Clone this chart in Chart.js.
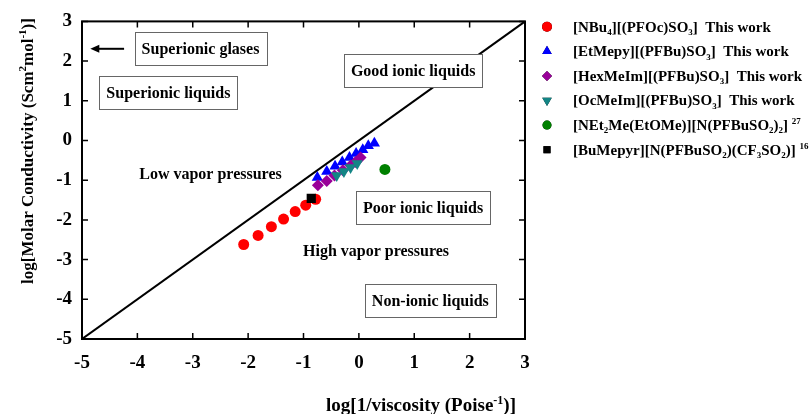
<!DOCTYPE html>
<html>
<head>
<meta charset="utf-8">
<script src="https://cdn.jsdelivr.net/npm/chart.js@4/dist/chart.umd.min.js"></script>
<style>
  body { margin: 0; background: #fff; }
  canvas { display: block; }
</style>
</head>
<body>
<canvas id="waldenChart" width="811" height="414"></canvas>
<script>
// walden plot - molar conductivity vs fluidity

const FONT = '"Liberation Serif", "Times New Roman", serif';

// axis range + ticks
const axisMin = -5;
const axisMax = 3;
const tickValues = [-5, -4, -3, -2, -1, 0, 1, 2, 3];

// ideal KCl line
const idealX = [-5, 3];
const idealY = [-5, 3];

// [NBu4][(PFOc)SO3]
const nbuX = [-2.08, -1.82, -1.58, -1.36, -1.15, -0.96, -0.78];
const nbuY = [-2.62, -2.39, -2.17, -1.98, -1.79, -1.63, -1.48];

// [EtMepy][(PFBu)SO3]
const etmX = [-0.75, -0.58, -0.43, -0.30, -0.17, -0.05, 0.07, 0.17, 0.28];
const etmY = [-0.93, -0.78, -0.65, -0.54, -0.43, -0.33, -0.23, -0.13, -0.07];

// [HexMeIm][(PFBu)SO3]
const hexX = [-0.74, -0.58, -0.44, -0.29, -0.15, -0.06, 0.03];
const hexY = [-1.13, -1.02, -0.88, -0.75, -0.63, -0.54, -0.43];

// [OcMeIm][(PFBu)SO3]
const ocX = [-0.40, -0.27, -0.15, -0.03];
const ocY = [-0.88, -0.78, -0.68, -0.58];

// [NEt2Me(EtOMe)][N(PFBuSO2)2] ref 27
const netX = [0.47];
const netY = [-0.73];

// [BuMepyr][N(PFBuSO2)(CF3SO2)] ref 16
const bmpX = [-0.86];
const bmpY = [-1.46];

// legend labels, _{} = subscript, ^{} = superscript
const legendLabels = [
  '[NBu_{4}][(PFOc)SO_{3}]  This work',
  '[EtMepy][(PFBu)SO_{3}]  This work',
  '[HexMeIm][(PFBu)SO_{3}]  This work',
  '[OcMeIm][(PFBu)SO_{3}]  This work',
  '[NEt_{2}Me(EtOMe)][N(PFBuSO_{2})_{2}] ^{27}',
  '[BuMepyr][N(PFBuSO_{2})(CF_{3}SO_{2})] ^{16}'
];

// region labels (text, x, y, boxed)
const regionText = ['Superionic glases', 'Superionic liquids', 'Good ionic liquids', 'Low vapor pressures', 'Poor ionic liquids', 'High vapor pressures', 'Non-ionic liquids'];
const regionX = [-2.86, -3.44, 0.98, -2.68, 1.16, 0.31, 1.29];
const regionY = [2.31, 1.21, 1.76, -0.84, -1.69, -2.77, -4.03];
const regionBoxed = [true, true, true, false, true, false, true];

const xTitle = 'log[1/viscosity (Poise^{-1})]';
const yTitle = 'log[Molar Conductivity (Scm^{2}mol^{-1})]';

const toPoints = (xs, ys) => xs.map((x, i) => ({ x, y: ys[i] }));

// split text into normal / sub / sup parts
function parseRich(str) {
  const parts = [];
  const re = /(_|\^)\{([^}]*)\}/g;
  let last = 0, m;
  while ((m = re.exec(str)) !== null) {
    if (m.index > last) parts.push({ t: str.slice(last, m.index), k: '' });
    parts.push({ t: m[2], k: m[1] === '_' ? 'sub' : 'sup' });
    last = re.lastIndex;
  }
  if (last < str.length) parts.push({ t: str.slice(last), k: '' });
  return parts;
}

function richWidth(ctx, str, size) {
  let w = 0;
  parseRich(str).forEach(p => {
    ctx.font = `bold ${p.k ? Math.round(size * 0.62) : size}px ${FONT}`;
    w += ctx.measureText(p.t).width;
  });
  return w;
}

// y is vertical middle of the text
function drawRich(ctx, str, x, y, size, align) {
  const w = richWidth(ctx, str, size);
  let cx = align === 'center' ? x - w / 2 : x;
  const base = y + size * 0.33;
  ctx.textAlign = 'left';
  ctx.textBaseline = 'alphabetic';
  parseRich(str).forEach(p => {
    const s = p.k ? Math.round(size * 0.62) : size;
    ctx.font = `bold ${s}px ${FONT}`;
    let by = base;
    if (p.k === 'sub') by = base + size * 0.22;
    if (p.k === 'sup') by = base - size * 0.4;
    ctx.fillText(p.t, cx, by);
    cx += ctx.measureText(p.t).width;
  });
}

// frame, inward ticks, region labels, legend, axis titles
const decorPlugin = {
  id: 'decor',
  afterDatasetsDraw(chart) {
    const { ctx, chartArea: a, scales } = chart;
    const xs = scales.x, ys = scales.y;
    ctx.save();

    // region boxes + labels
    regionText.forEach((txt, i) => {
      const px = xs.getPixelForValue(regionX[i]);
      const py = ys.getPixelForValue(regionY[i]);
      const size = 16;
      const w = richWidth(ctx, txt, size);
      if (regionBoxed[i]) {
        const bw = w + 14, bh = 33;
        ctx.fillStyle = '#fff';
        ctx.fillRect(px - bw / 2, py - bh / 2, bw, bh);
        ctx.strokeStyle = '#666';
        ctx.lineWidth = 1;
        ctx.strokeRect(Math.round(px - bw / 2) + 0.5, Math.round(py - bh / 2) + 0.5, Math.round(bw), bh);
      }
      ctx.fillStyle = '#000';
      drawRich(ctx, txt, px, py, size, 'center');
    });

    // arrow pointing to the left axis
    const ay = ys.getPixelForValue(2.31);
    const ax1 = xs.getPixelForValue(-4.24);
    const ax2 = xs.getPixelForValue(-4.85);
    ctx.strokeStyle = '#000';
    ctx.fillStyle = '#000';
    ctx.lineWidth = 2;
    ctx.beginPath();
    ctx.moveTo(ax1, ay);
    ctx.lineTo(ax2 + 6, ay);
    ctx.stroke();
    ctx.beginPath();
    ctx.moveTo(ax2, ay);
    ctx.lineTo(ax2 + 9, ay - 4);
    ctx.lineTo(ax2 + 9, ay + 4);
    ctx.closePath();
    ctx.fill();

    // plot frame
    ctx.strokeStyle = '#000';
    ctx.lineWidth = 2;
    ctx.strokeRect(a.left, a.top, a.right - a.left, a.bottom - a.top);

    // ticks on all four sides, pointing in
    const tl = 6;
    ctx.lineWidth = 1.5;
    ctx.beginPath();
    tickValues.forEach(v => {
      const px = xs.getPixelForValue(v);
      ctx.moveTo(px, a.bottom); ctx.lineTo(px, a.bottom - tl);
      ctx.moveTo(px, a.top); ctx.lineTo(px, a.top + tl);
      const py = ys.getPixelForValue(v);
      ctx.moveTo(a.left, py); ctx.lineTo(a.left + tl, py);
      ctx.moveTo(a.right, py); ctx.lineTo(a.right - tl, py);
    });
    ctx.stroke();
    ctx.restore();
  },
  afterDraw(chart) {
    const { ctx } = chart;
    ctx.save();
    ctx.fillStyle = '#000';

    // legend on the right
    const ds = chart.data.datasets.filter(d => d.legendRadius);
    ds.forEach((d, i) => {
      const y = 26.7 + i * 24.6;
      Chart.helpers.drawPoint(ctx, {
        pointStyle: d.pointStyle,
        rotation: d.rotation || 0,
        radius: d.legendRadius,
        borderWidth: 0
      }, 547, y);
      ctx.fillStyle = d.backgroundColor;
      ctx.fill();
      ctx.fillStyle = '#000';
      drawRich(ctx, legendLabels[i], 573, y, 15, 'left');
    });

    // axis titles
    drawRich(ctx, xTitle, 421, 405, 19, 'center');
    ctx.translate(27, 151);
    ctx.rotate(-Math.PI / 2);
    drawRich(ctx, yTitle, 0, 0, 17, 'center');
    ctx.restore();
  }
};

const tickFont = { family: FONT, size: 19, weight: 'bold' };

new Chart(document.getElementById('waldenChart'), {
  type: 'scatter',
  data: {
    datasets: [
      { label: 'NBu4', data: toPoints(nbuX, nbuY), pointStyle: 'circle', radius: 5.5, legendRadius: 5, backgroundColor: '#ff0000', borderWidth: 0, order: 6 },
      { label: 'EtMepy', data: toPoints(etmX, etmY), pointStyle: 'triangle', radius: 6.5, legendRadius: 5.5, backgroundColor: '#0000ff', borderWidth: 0, order: 5 },
      { label: 'HexMeIm', data: toPoints(hexX, hexY), pointStyle: 'rectRot', radius: 6, legendRadius: 5, backgroundColor: '#990099', borderWidth: 0, order: 4 },
      { label: 'OcMeIm', data: toPoints(ocX, ocY), pointStyle: 'triangle', rotation: 180, radius: 6.5, legendRadius: 5.5, backgroundColor: '#138585', borderWidth: 0, order: 3 },
      { label: 'NEt2Me', data: toPoints(netX, netY), pointStyle: 'circle', radius: 5.5, legendRadius: 4.5, backgroundColor: '#008000', borderWidth: 0, order: 2 },
      { label: 'BuMepyr', data: toPoints(bmpX, bmpY), pointStyle: 'rect', radius: 6.5, legendRadius: 5, backgroundColor: '#000000', borderWidth: 0, order: 1 },
      // y = x reference line
      { type: 'line', label: '', data: toPoints(idealX, idealY), borderColor: '#000', borderWidth: 2, pointRadius: 0, showLine: true, order: 10 }
    ]
  },
  options: {
    responsive: false,
    devicePixelRatio: 1,
    animation: false,
    layout: { padding: { left: 0, right: 286, top: 19, bottom: 0 } },
    plugins: {
      legend: { display: false },
      tooltip: { enabled: false }
    },
    scales: {
      x: {
        type: 'linear',
        min: axisMin,
        max: axisMax,
        afterFit: s => { s.height = 75; },
        afterBuildTicks: s => { s.ticks = tickValues.map(v => ({ value: v })); },
        ticks: { color: '#000', font: tickFont, padding: 13, maxRotation: 0 },
        grid: { display: false, drawTicks: false },
        border: { display: false }
      },
      y: {
        type: 'linear',
        min: axisMin,
        max: axisMax,
        afterFit: s => { s.width = 82; },
        afterBuildTicks: s => { s.ticks = tickValues.map(v => ({ value: v })); },
        ticks: { color: '#000', font: tickFont, padding: 10 },
        grid: { display: false, drawTicks: false },
        border: { display: false }
      }
    }
  },
  plugins: [decorPlugin]
});
</script>
</body>
</html>
